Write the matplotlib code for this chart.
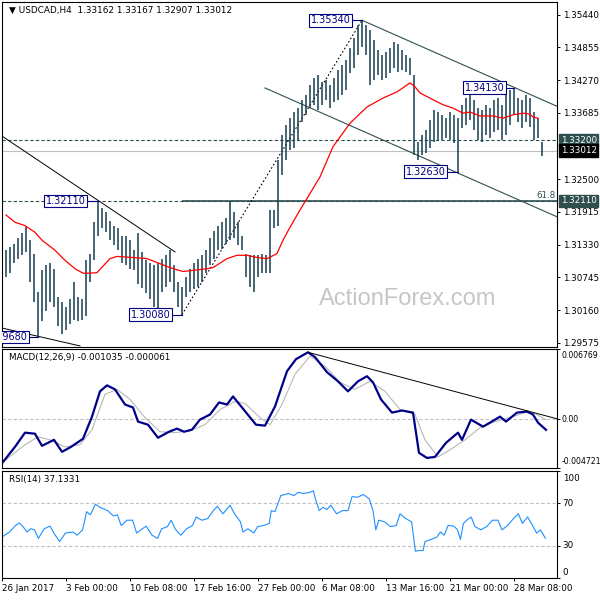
import numpy as np
import matplotlib
matplotlib.use("Agg")
import matplotlib.pyplot as plt
from matplotlib.transforms import ScaledTranslation

# ------------------------------------------------------------------ data
title_text = "\u25bc USDCAD,H4  1.33162 1.33167 1.32907 1.33012"
macd_title = "MACD(12,26,9) -0.001035 -0.000061"
rsi_title = "RSI(14) 37.1331"
watermark = "ActionForex.com"

date_labels = ["26 Jan 2017", "3 Feb 00:00", "10 Feb 08:00", "17 Feb 16:00",
               "27 Feb 00:00", "6 Mar 08:00", "13 Mar 16:00", "21 Mar 00:00",
               "28 Mar 08:00"]
price_ticks = [1.35440, 1.34855, 1.34270, 1.33685, 1.32500, 1.31915,
               1.31330, 1.30745, 1.30160, 1.29575]

bar_high = [1.3123, 1.3128, 1.3135, 1.3144, 1.3153, 1.3164, 1.3141, 1.3117, 1.3049, 1.3087,
            1.3096, 1.3101, 1.3090, 1.3040, 1.3031, 1.3022, 1.3035, 1.3067, 1.3040, 1.3035,
            1.3105, 1.3117, 1.3173, 1.3211, 1.3199, 1.3191, 1.3176, 1.3167, 1.3162, 1.3149,
            1.3149, 1.3141, 1.3123, 1.3153, 1.3119, 1.3105, 1.3101, 1.3096, 1.3101, 1.3108,
            1.3114, 1.3123, 1.3096, 1.3067, 1.3058, 1.3076, 1.3090, 1.3101, 1.3108, 1.3114,
            1.3123, 1.3144, 1.3158, 1.3167, 1.3173, 1.3181, 1.3211, 1.3191, 1.3173, 1.3149,
            1.3117, 1.3114, 1.3114, 1.3114, 1.3117, 1.3114, 1.3195, 1.3195, 1.3284, 1.3329,
            1.3347, 1.3359, 1.3370, 1.3377, 1.3392, 1.3401, 1.3418, 1.3431, 1.3436, 1.3424,
            1.3427, 1.3418, 1.3431, 1.3445, 1.3454, 1.3463, 1.3484, 1.3502, 1.3526, 1.3534,
            1.3526, 1.3517, 1.3499, 1.3481, 1.3472, 1.3477, 1.3484, 1.3495, 1.3492, 1.3481,
            1.3472, 1.3467, 1.3436, 1.3316, 1.3329, 1.3338, 1.3356, 1.3374, 1.3370, 1.3365,
            1.3359, 1.3370, 1.3365, 1.3359, 1.3383, 1.3395, 1.3409, 1.3392, 1.3377, 1.3374,
            1.3383, 1.3377, 1.3392, 1.3395, 1.3383, 1.3406, 1.3409, 1.3413, 1.3395, 1.3392,
            1.3401, 1.3395, 1.3370, 1.3359, 1.33167]
bar_low = [1.3076, 1.3083, 1.3101, 1.3108, 1.3114, 1.3119, 1.3067, 1.3031, 1.2968, 1.2996,
           1.3014, 1.3031, 1.3022, 1.2987, 1.2974, 1.2981, 1.2992, 1.2999, 1.2996, 1.2999,
           1.3005, 1.3067, 1.3105, 1.3149, 1.3162, 1.3155, 1.3141, 1.3132, 1.3123, 1.3101,
           1.3096, 1.3090, 1.3087, 1.3062, 1.3055, 1.3046, 1.3035, 1.3022, 1.3019, 1.3049,
           1.3058, 1.3067, 1.3049, 1.3022, 1.3008, 1.3040, 1.3049, 1.3053, 1.3058, 1.3067,
           1.3083, 1.3096, 1.3108, 1.3123, 1.3126, 1.3135, 1.3141, 1.3144, 1.3132, 1.3123,
           1.3076, 1.3058, 1.3049, 1.3076, 1.3083, 1.3083, 1.3083, 1.3162, 1.3167, 1.3258,
           1.3284, 1.3302, 1.3306, 1.3320, 1.3352, 1.3365, 1.3377, 1.3383, 1.3374, 1.3383,
           1.3392, 1.3377, 1.3388, 1.3392, 1.3401, 1.3409, 1.3440, 1.3449, 1.3472, 1.3486,
           1.3472, 1.3418, 1.3427, 1.3436, 1.3427, 1.3431, 1.3440, 1.3449, 1.3442, 1.3445,
           1.3442, 1.3436, 1.3293, 1.3284, 1.3293, 1.3297, 1.3306, 1.3316, 1.3320, 1.3320,
           1.3324, 1.3320, 1.3315, 1.3263, 1.3342, 1.3347, 1.3356, 1.3338, 1.3320, 1.3316,
           1.3329, 1.3324, 1.3334, 1.3338, 1.3320, 1.3329, 1.3347, 1.3365, 1.3352, 1.3342,
           1.3352, 1.3343, 1.3320, 1.3324, 1.32907]

# moving average (red) read at bar positions
ma_x = [2, 6.5, 11.5, 16.5, 20, 26.5, 31.5, 36.5, 40.5, 44, 47.5, 54, 57.5, 65.5, 72.5,
        79, 84, 90.5, 95.5, 102.5, 105.5, 112.5, 117.5, 122.5, 127.5, 132.5, 137.5, 140.5,
        144, 149, 159, 165.5, 174, 182.5, 190.5, 197.5, 204, 206.5, 209, 215.5, 220.5,
        225.5, 230.5, 234, 239, 245.5, 250.5, 255.5, 260.5, 264, 265.5, 268]
ma_val = [1.3186, 1.3173, 1.3167, 1.3155, 1.3141, 1.3123, 1.3105, 1.3090, 1.3082, 1.3082,
          1.3083, 1.3108, 1.3112, 1.3110, 1.3108, 1.3099, 1.3092, 1.3085, 1.3087, 1.3090,
          1.3092, 1.3108, 1.3114, 1.3114, 1.3110, 1.3108, 1.3117, 1.3141, 1.3164, 1.3195,
          1.3254, 1.3308, 1.3350, 1.3379, 1.3395, 1.3406, 1.3422, 1.3415, 1.3404, 1.3392,
          1.3383, 1.3377, 1.3368, 1.3370, 1.3363, 1.3363, 1.3359, 1.3365, 1.3368, 1.3366,
          1.3361, 1.3359]

# marked swing levels and bar where they occur
swing_values = [1.35340, 1.34130, 1.32630, 1.32110, 1.30080, 1.29680]
swing_bars = [180, 256, 228, 48, 90, 18]
level_dashed_1 = 1.33200
last_price = 1.33012
fib_level = 1.32110
fib_label = "61.8"

macd_x = [0.5, 6.5, 11.5, 16.5, 20, 26, 30, 34.5, 40.5, 45, 49, 52.5, 56.5, 61.5, 65.5, 68,
          73, 78, 83.5, 87.5, 91, 95, 99, 104, 108.5, 112.5, 115.5, 120, 127, 131.5, 136.5,
          142.5, 147, 153, 156.5, 162.5, 168, 173, 178, 182.5, 185.5, 189.5, 195, 200,
          205.5, 208.5, 212.5, 216.5, 222, 228, 230, 234.5, 240.5, 244, 249, 252, 257.5,
          262.5, 265.5, 268, 272]
macd_val = [-0.00414, -0.00268, -0.00131, -0.00141, -0.00258, -0.00200, -0.00316, -0.00268,
            -0.00190, 0.00024, 0.00268, 0.00326, 0.00287, 0.00141, 0.00112, -0.00024,
            -0.00054, -0.00180, -0.00122, -0.00092, -0.00122, -0.00102, -0.00005, 0.00044,
            0.00161, 0.00141, 0.00219, 0.00112, -0.00054, -0.00063, 0.00122, 0.00462,
            0.00579, 0.00645, 0.00599, 0.00453, 0.00365, 0.00268, 0.00365, 0.00414,
            0.00355, 0.00190, 0.00063, 0.00083, 0.00063, -0.00326, -0.00375, -0.00365,
            -0.00229, -0.00131, -0.00200, -0.00005, -0.00073, -0.00034, 0.00024, -0.00024,
            0.00063, 0.00073, 0.00044, -0.00034, -0.001035]
signal_x = [0.5, 11.5, 18, 24, 31.5, 39, 45, 51.5, 57.5, 64, 71.5, 79, 86.5, 94, 101.5, 109,
            116.5, 121.5, 129, 134, 140, 146.5, 154, 161.5, 169, 176.5, 184, 191.5, 199,
            206.5, 211.5, 218, 224, 231.5, 239, 246.5, 254, 261.5, 266.5, 272]
signal_val = [-0.00414, -0.00248, -0.00171, -0.00200, -0.00268, -0.00248, -0.00102, 0.00239,
              0.00287, 0.00190, 0.00015, -0.00122, -0.00131, -0.00112, -0.00054, 0.00092,
              0.00170, 0.00151, 0.00015, -0.00054, 0.00141, 0.00433, 0.00608, 0.00511,
              0.00355, 0.00287, 0.00365, 0.00268, 0.00092, 0.00044, -0.00200, -0.00365,
              -0.00297, -0.00200, -0.00083, -0.00024, 0.00015, 0.00063, 0.00054, -0.000061]
macd_max = 0.006769
macd_min = -0.004721

rsi_x = [0.5, 3.8, 6.7, 8.6, 10.5, 12.5, 14.4, 16.3, 18.2, 21.1,
         24, 25.9, 28.8, 31.7, 35.5, 37.5, 40.3, 42.3, 44.2, 46.7,
         49, 52.8, 55.7, 57.7, 59.6, 62.5, 65.3, 67.3, 70.2, 72.1,
         75, 77.8, 79.8, 82.7, 84.6, 86.5, 89.4, 92.3, 95.2, 97.1,
         100, 102.8, 105.7, 107.7, 110.5, 114, 116.3, 119.2, 120.5, 123,
         125.9, 127.8, 130.7, 133.6, 134.6, 136.5, 139.4, 143.2, 146.1, 148,
         150.9, 153.8, 155.7, 156.7, 158.6, 160.5, 162.5, 164.4, 167.3, 170.2,
         173, 175, 177.8, 180.7, 183.6, 185.5, 186.9, 188.4, 191.3, 194.2,
         197.1, 199, 201.9, 204.8, 206.7, 208.6, 210.5, 211.5, 214.4, 217.3,
         219.2, 221.1, 223, 225.9, 227.8, 229.2, 230.7, 232.7, 234.6, 236.5,
         239.4, 242.3, 245.2, 248, 250, 252.8, 255.7, 258.2, 260.2, 262.8,
         265.3, 267.3, 269.2, 271.7]
rsi_val = [39, 43, 49, 51.5, 48, 43, 46, 45, 37, 46,
           48.5, 42, 34, 42, 43, 40, 45, 62, 59, 69,
           66, 63, 58, 59, 49, 54, 54, 42, 46, 48.5,
           40, 37, 46, 48, 54, 46, 40, 46, 49, 57,
           54, 55.5, 63, 67, 60, 68, 60, 52.5, 43, 46,
           42, 48, 49, 51, 63, 62, 77, 79, 77, 80,
           79, 80, 81.5, 74, 63, 66, 64, 68, 60, 63,
           63, 76, 75.5, 78, 74, 63, 45, 54, 52.5, 48,
           49, 60, 55.5, 52.5, 25, 25.7, 25.7, 34, 36, 38,
           43, 40, 49, 48.5, 45, 36, 51, 54.6, 57, 48,
           45, 48, 54, 54, 45, 49, 55.5, 60, 51, 57,
           49, 42, 45, 37.13]
rsi_levels = [70, 30]

# ------------------------------------------------------------------ style
plt.rcParams['font.family'] = ['DejaVu Sans']
BAR = '#163c50'
SLATE = '#2f4f4f'
NAVY = '#000080'
FS = 6.3

W = H = 600
def rect(x0, y0, x1, y1):
    return [x0 / W, 1 - y1 / H, (x1 - x0) / W, (y1 - y0) / H]

fig = plt.figure(figsize=(6, 6), dpi=100)
fig.patch.set_facecolor('white')
ax = fig.add_axes(rect(2, 2, 557, 347))
axm = fig.add_axes(rect(2, 349, 557, 468))
axr = fig.add_axes(rect(2, 471, 557, 578))

XMAX = 277.5
for a in (ax, axm, axr):
    a.set_xlim(0, XMAX)
    for s in a.spines.values():
        s.set_linewidth(0.8)
        s.set_color('black')
    a.yaxis.tick_right()
    a.tick_params(axis='y', direction='out', length=2.5, width=0.7, pad=1.5,
                  labelsize=FS, colors='black')
    a.tick_params(axis='x', bottom=False, labelbottom=False)

# ------------------------------------------------------------------ main panel
ax.set_ylim(1.29501, 1.35666)
ax.set_yticks(price_ticks)
ax.set_yticklabels([f"{v:.5f}" for v in price_ticks])

ax.text(203, 1.3035, watermark, fontsize=17, color='#c6c6c6',
        family='Liberation Sans', ha='center', va='center', zorder=0)

xpos = 2 + 2 * np.arange(len(bar_high))
ax.vlines(xpos, bar_low, bar_high, colors=BAR, lw=1.1, zorder=3)
ax.plot(ma_x, ma_val, color='red', lw=0.9, zorder=4)

# horizontal levels
ax.axhline(level_dashed_1, color=SLATE, lw=0.8, dashes=(3, 2), zorder=2)
ax.axhline(last_price, color='#c0c0c0', lw=0.8, zorder=2)
ax.axhline(fib_level, color=SLATE, lw=0.8, dashes=(3, 2), zorder=2)
ax.hlines(fib_level, 90, XMAX, color=SLATE, lw=1.2, zorder=2)
ax.text(XMAX - 0.5, fib_level + 0.0002, fib_label, color=SLATE, fontsize=FS,
        ha='right', va='bottom')

# trend lines
ax.plot([0, 86.5], [1.3327, 1.3120], color='black', lw=0.7, zorder=2)
ax.plot([0, 39], [1.2984, 1.2952], color='black', lw=0.7, zorder=2)
ax.plot([swing_bars[4], swing_bars[0]], [swing_values[4], swing_values[0]],
        color='black', lw=0.8, dashes=(1.5, 2), zorder=2)
slope = -0.0001577
ax.plot([180, XMAX], [1.3534, 1.3534 + slope * (XMAX - 180)], color=SLATE, lw=0.8, zorder=2)
ax.plot([131.5, XMAX], [1.3413, 1.3413 + slope * (XMAX - 131.5)], color=SLATE, lw=0.8, zorder=2)

# swing labels
label_right = [175, 252, 222.5, 42.5, 85, 13.5]
for v, b, r in zip(swing_values, swing_bars, label_right):
    ax.plot([r, b], [v, v], color=NAVY, lw=0.8, zorder=5)
    ax.text(r - 0.8, v, f"{v:.5f}", ha='right', va='center', color=NAVY, fontsize=7,
            bbox=dict(boxstyle='square,pad=0.15', fc='white', ec=NAVY, lw=0.8),
            zorder=6, clip_on=True)

# right side highlighted price labels
for val, fc in [(level_dashed_1, SLATE), (last_price, 'black'), (fib_level, SLATE)]:
    ax.annotate(f"{val:.5f}", xy=(1, val), xycoords=('axes fraction', 'data'),
                xytext=(2.6, 0), textcoords='offset points', ha='left', va='center',
                fontsize=FS, color='white', annotation_clip=False,
                bbox=dict(boxstyle='square,pad=0.2', fc=fc, ec=fc))

ax.text(0.012, 1 - 4 / 345, title_text, transform=ax.transAxes, ha='left', va='top',
        fontsize=6.4, color='black')

# ------------------------------------------------------------------ MACD
axm.set_ylim(macd_min, macd_max)
axm.axhline(0, color='#c0c0c0', lw=0.8, dashes=(3, 2))
axm.plot(signal_x, signal_val, color='#b8b8b8', lw=0.8)
axm.plot(macd_x, macd_val, color='#00008b', lw=1.6)
axm.plot([153, XMAX], [0.00645, 0.00645 - 5.157e-5 * (XMAX - 153)], color='black', lw=0.7)
axm.set_yticks([macd_max, 0.0, macd_min])
axm.set_yticklabels(["0.006769", "0.00", "-0.004721"])
axm.tick_params(axis='y', labelsize=5.6, pad=1.0)
for lab, va, dy in zip(axm.get_yticklabels(), ['top', 'center', 'bottom'], [-2, 0, 2]):
    lab.set_verticalalignment(va)
    lab.set_transform(lab.get_transform() + ScaledTranslation(0, dy / 100, fig.dpi_scale_trans))
axm.text(0.012, 1 - 4 / 119, macd_title, transform=axm.transAxes, ha='left', va='top',
         fontsize=FS, color='black')

# ------------------------------------------------------------------ RSI
axr.set_ylim(0, 100)
for lv in rsi_levels:
    axr.axhline(lv, color='#c0c0c0', lw=0.8, dashes=(3, 2))
axr.plot(rsi_x, rsi_val, color='#1e90ff', lw=0.8)
axr.set_yticks([100, 70, 30, 0])
axr.set_yticklabels(["100", "70", "30", "0"])
for lab, va, dy in zip(axr.get_yticklabels(), ['top', 'center', 'center', 'bottom'],
                       [-3, 0, 0, 1]):
    lab.set_verticalalignment(va)
    lab.set_transform(lab.get_transform() + ScaledTranslation(0, dy / 100, fig.dpi_scale_trans))
axr.text(0.012, 1 - 4 / 107, rsi_title, transform=axr.transAxes, ha='left', va='top',
         fontsize=FS, color='black')

axr.set_xticks(np.arange(len(date_labels)) * 32)
axr.set_xticklabels(date_labels)
axr.tick_params(axis='x', bottom=True, labelbottom=True, direction='out', length=2.5,
                width=0.7, pad=1.5, labelsize=FS)
for lab in axr.get_xticklabels():
    lab.set_horizontalalignment('left')

fig.savefig("out.png", dpi=100, facecolor='white')
